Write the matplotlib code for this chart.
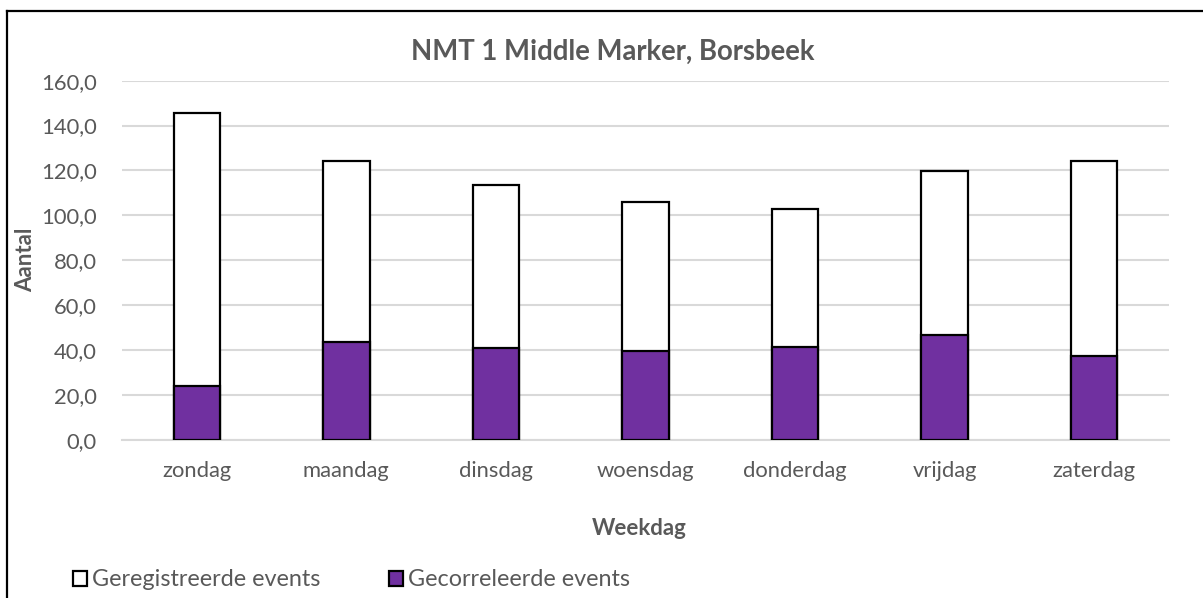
import matplotlib
matplotlib.use("Agg")
import matplotlib.pyplot as plt
from matplotlib.lines import Line2D
from matplotlib.ticker import FuncFormatter

# data
days = ["zondag", "maandag", "dinsdag", "woensdag", "donderdag", "vrijdag", "zaterdag"]
geregistreerd = [145.7, 124.0, 113.3, 105.8, 102.9, 119.9, 124.3]
gecorreleerd = [23.9, 43.6, 40.7, 39.7, 41.3, 46.5, 37.1]

purple = "#7030A0"
grey_text = "#595959"
grid_col = "#D9D9D9"

plt.rcParams["font.family"] = ["Lato", "DejaVu Sans"]

W, H = 1203, 598
fig = plt.figure(figsize=(W / 100, H / 100), dpi=100)
ax = fig.add_axes([122 / W, 1 - 439.7 / H, 1047 / W, 359 / H])

x = list(range(len(days)))
bw = 0.31
ax.bar(x, geregistreerd, width=bw, color="white", edgecolor="black",
       linewidth=1.6, label="Geregistreerde events", zorder=3)
ax.bar(x, gecorreleerd, width=bw, color=purple, edgecolor="black",
       linewidth=1.6, label="Gecorreleerde events", zorder=4)

ax.set_xlim(-0.5, len(days) - 0.5)
ax.set_ylim(0, 160)
ax.set_yticks(range(0, 161, 20))
ax.yaxis.set_major_formatter(FuncFormatter(lambda v, p: f"{v:.1f}".replace(".", ",")))
ax.set_xticks(x)
ax.set_xticklabels(days)

ax.grid(axis="y", color=grid_col, linewidth=1.5, zorder=0)
ax.set_axisbelow(True)
for s in ["top", "right", "left"]:
    ax.spines[s].set_visible(False)
ax.spines["bottom"].set_color(grid_col)
ax.spines["bottom"].set_linewidth(1.5)

ax.tick_params(axis="y", length=0, pad=18, labelsize=15.8, labelcolor=grey_text)
ax.tick_params(axis="x", length=0, pad=15, labelsize=15.8, labelcolor=grey_text)

ax.set_ylabel("Aantal", fontsize=16, fontweight="bold", color=grey_text)
ax.yaxis.set_label_coords(-0.0821, 0.5)
ax.set_xlabel("Weekdag", fontsize=16, fontweight="bold", color=grey_text)
ax.xaxis.set_label_coords(0.494, -0.218)

fig.text(613 / W, 1 - 52 / H, "NMT 1 Middle Marker, Borsbeek", fontsize=19.8,
         fontweight="bold", color=grey_text, ha="center", va="center")

fig.legend(loc="center left", bbox_to_anchor=(52 / W, 1 - 580 / H), ncol=2,
           frameon=False, fontsize=16.8, handlelength=0.6, handleheight=0.6,
           handletextpad=0.2, columnspacing=2.95, labelcolor=grey_text)

# chart border (top and left only visible)
fig.add_artist(Line2D([7 / W, 1], [1 - 10.5 / H, 1 - 10.5 / H], color="black", linewidth=1.6))
fig.add_artist(Line2D([7 / W, 7 / W], [0, 1 - 10.5 / H], color="black", linewidth=1.6))

fig.savefig("out.png", dpi=100)
